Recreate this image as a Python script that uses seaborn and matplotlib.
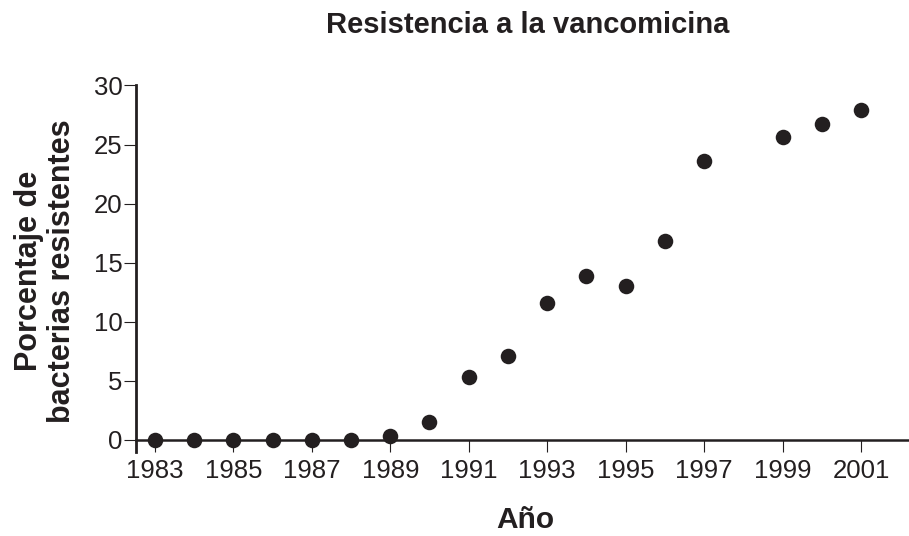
import matplotlib
matplotlib.use("Agg")
import matplotlib.pyplot as plt
import seaborn as sns
import pandas as pd

years = [1983, 1984, 1985, 1986, 1987, 1988, 1989, 1990, 1991, 1992, 1993,
         1994, 1995, 1996, 1997, 1999, 2000, 2001]
percent = [0, 0, 0, 0, 0, 0, 0.3, 1.5, 5.3, 7.1, 11.6,
           13.9, 13.0, 16.8, 23.6, 25.6, 26.7, 27.9]
xticks = [1983, 1985, 1987, 1989, 1991, 1993, 1995, 1997, 1999, 2001]
yticks = [0, 5, 10, 15, 20, 25, 30]

sns.set_style("ticks")
plt.rcParams['font.family'] = ['Liberation Sans', 'DejaVu Sans']
ink = "#231f20"

df = pd.DataFrame({"Año": years, "pct": percent})

fig = plt.figure(figsize=(9.09, 5.36), dpi=100)
ax = fig.add_axes([0.1496, 0.1571, 0.8504, 0.6834])
sns.scatterplot(data=df, x="Año", y="pct", ax=ax, s=125, color=ink,
                edgecolor=ink, linewidth=0, zorder=3, clip_on=False)

ax.set_xlim(1982.52, 2002.22)
ax.set_ylim(-1, 30)
ax.set_xticks(xticks)
ax.set_yticks(yticks)
ax.spines['top'].set_visible(False)
ax.spines['right'].set_visible(False)
ax.spines['bottom'].set_position(('data', 0))
ax.spines['left'].set_bounds(-1, 30)
ax.spines['left'].set_linewidth(2.0)
ax.spines['bottom'].set_linewidth(1.8)
ax.spines['left'].set_color(ink)
ax.spines['bottom'].set_color(ink)
ax.tick_params(axis='both', length=8.5, width=0.8, color=ink, labelcolor=ink,
               labelsize=18.5, direction='out')
ax.tick_params(axis='y', pad=1)
ax.tick_params(axis='x', pad=5)

ax.set_xlabel("")
ax.set_ylabel("")
fig.text(0.580, 0.953, "Resistencia a la vancomicina", ha='center', va='center',
         fontsize=21, fontweight='bold', color=ink)
fig.text(0.5776, 0.03, "Año", ha='center', va='center',
         fontsize=21.5, fontweight='bold', color=ink)
fig.text(0.050, 0.494, "Porcentaje de\nbacterias resistentes", ha='center', va='center',
         rotation=90, fontsize=22, fontweight='bold', color=ink, linespacing=1.1)

fig.savefig("out.png", dpi=100)
